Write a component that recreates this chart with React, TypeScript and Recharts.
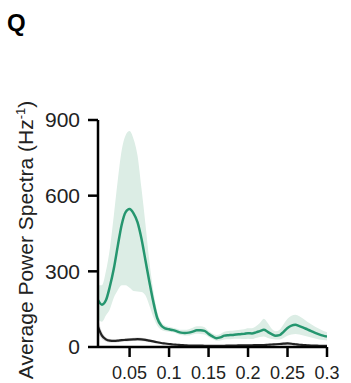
import React from "react";
import { ComposedChart, Area, Line, XAxis, YAxis, Label } from "recharts";

const freq = [0.01, 0.015, 0.02, 0.025, 0.03, 0.035, 0.04, 0.045, 0.05, 0.055, 0.06, 0.065, 0.07, 0.075, 0.08, 0.085, 0.09, 0.095, 0.1, 0.105, 0.11, 0.115, 0.12, 0.125, 0.13, 0.135, 0.14, 0.145, 0.15, 0.155, 0.16, 0.165, 0.17, 0.175, 0.18, 0.185, 0.19, 0.195, 0.2, 0.205, 0.21, 0.215, 0.22, 0.225, 0.23, 0.235, 0.24, 0.245, 0.25, 0.255, 0.26, 0.265, 0.27, 0.275, 0.28, 0.285, 0.29, 0.295, 0.3];

const greenMean = [186, 168, 185, 240, 310, 400, 485, 535, 547, 530, 495, 430, 345, 260, 180, 115, 85, 74, 70, 67, 62, 57, 56, 57, 61, 66, 66, 64, 52, 42, 35, 38, 45, 47, 48, 50, 51, 52, 55, 54, 58, 63, 68, 60, 51, 45, 47, 60, 75, 85, 88, 83, 77, 70, 63, 56, 50, 45, 41];
const greenUpper = [245, 245, 300, 390, 520, 660, 780, 840, 856, 825, 760, 630, 490, 340, 225, 140, 100, 85, 80, 76, 72, 68, 68, 70, 76, 82, 82, 78, 64, 54, 48, 52, 60, 63, 64, 66, 68, 70, 74, 74, 82, 95, 112, 95, 72, 62, 68, 90, 112, 124, 128, 122, 112, 100, 90, 80, 72, 64, 58];
const greenLower = [110, 100, 125, 150, 195, 225, 245, 245, 235, 222, 220, 218, 205, 165, 120, 85, 68, 62, 60, 58, 53, 48, 46, 46, 50, 53, 52, 50, 40, 32, 25, 26, 30, 31, 32, 33, 33, 32, 33, 32, 36, 40, 42, 36, 32, 30, 30, 36, 45, 50, 52, 50, 46, 42, 38, 34, 30, 28, 26];

const blackMean = [80, 45, 30, 25, 24, 25, 27, 28, 29, 30, 31, 30, 28, 25, 22, 19, 16, 14, 12, 10, 9, 8, 7, 6, 6, 6, 6, 5, 5, 5, 5, 5, 5, 6, 6, 6, 7, 7, 7, 7, 8, 8, 8, 9, 10, 11, 12, 13, 14, 13, 11, 9, 8, 7, 6, 6, 5, 5, 5];
const blackUpper = [110, 60, 38, 32, 30, 31, 33, 35, 36, 37, 38, 37, 35, 31, 27, 24, 20, 18, 15, 13, 12, 11, 10, 9, 9, 9, 9, 8, 8, 8, 8, 8, 8, 9, 9, 9, 10, 10, 10, 10, 11, 11, 12, 13, 14, 15, 17, 19, 20, 19, 16, 13, 12, 10, 9, 9, 8, 8, 8];
const blackLower = [55, 32, 22, 18, 18, 19, 21, 22, 23, 24, 24, 23, 22, 19, 17, 14, 12, 10, 9, 7, 6, 5, 4, 3, 3, 3, 3, 2, 2, 2, 2, 2, 2, 3, 3, 3, 4, 4, 4, 4, 5, 5, 5, 5, 6, 7, 8, 8, 9, 8, 7, 6, 5, 4, 3, 3, 2, 2, 2];

const xTicks = [0.05, 0.1, 0.15, 0.2, 0.25, 0.3];
const xTickLabels = ["0.05", "0.1", "0.15", "0.2", "0.25", "0.3"];
const yTicks = [0, 300, 600, 900];
const yTickLabels = ["0", "300", "600", "900"];

const data = freq.map((f, i) => ({
  f,
  green: greenMean[i],
  greenBand: [greenLower[i], greenUpper[i]],
  black: blackMean[i],
  blackBand: [blackLower[i], blackUpper[i]],
}));

const FONT = "'Liberation Sans', Arial, Helvetica, sans-serif";
const GREEN = "#25966f";

const YLabel = () => {
  const cx = 33;
  const cy = 240;
  return (
    <text
      x={cx}
      y={cy}
      transform={`rotate(-90, ${cx}, ${cy})`}
      textAnchor="middle"
      fontFamily={FONT}
      fontSize={21}
      fill="#222"
    >
      Average Power Spectra (Hz
      <tspan fontSize={13} dy={-8}>-1</tspan>
      <tspan dy={8}>)</tspan>
    </text>
  );
};

export default function App() {
  return (
    <div style={{ position: "absolute", left: 0, top: 0, width: 351, height: 383, background: "#fff" }}>
      <div
        style={{
          position: "absolute",
          left: 7,
          top: 9,
          fontFamily: FONT,
          fontWeight: "bold",
          fontSize: 24,
          lineHeight: "28px",
          color: "#000",
        }}
      >
        Q
      </div>
      <ComposedChart
        width={351}
        height={383}
        data={data}
        margin={{ top: 120, right: 24, left: 0, bottom: 0 }}
      >
        <XAxis
          type="number"
          dataKey="f"
          domain={[0.01, 0.3]}
          ticks={xTicks}
          tickFormatter={(v: number) => xTickLabels[xTicks.indexOf(v)] ?? String(v)}
          allowDataOverflow
          height={36}
          tickSize={10}
          tickMargin={9}
          stroke="#000"
          axisLine={{ stroke: "#000", strokeWidth: 2.5 }}
          tickLine={{ stroke: "#000", strokeWidth: 2.5 }}
          tick={{ fill: "#222", fontSize: 18, fontFamily: FONT }}
        />
        <YAxis
          type="number"
          domain={[0, 900]}
          ticks={yTicks}
          tickFormatter={(v: number) => yTickLabels[yTicks.indexOf(v)] ?? String(v)}
          width={98}
          tickSize={10}
          tickMargin={8}
          stroke="#000"
          axisLine={{ stroke: "#000", strokeWidth: 2.5 }}
          tickLine={{ stroke: "#000", strokeWidth: 2.5 }}
          tick={{ fill: "#222", fontSize: 21, fontFamily: FONT }}
        >
          <Label content={<YLabel />} />
        </YAxis>
        <Area
          dataKey="greenBand"
          type="monotone"
          stroke="none"
          fill="#dcede5"
          fillOpacity={1}
          isAnimationActive={false}
        />
        <Area
          dataKey="blackBand"
          type="monotone"
          stroke="none"
          fill="#9a9a9a"
          fillOpacity={0.35}
          isAnimationActive={false}
        />
        <Line
          dataKey="green"
          type="monotone"
          stroke={GREEN}
          strokeWidth={2.5}
          dot={false}
          isAnimationActive={false}
        />
        <Line
          dataKey="black"
          type="monotone"
          stroke="#222"
          strokeWidth={2.2}
          dot={false}
          isAnimationActive={false}
        />
      </ComposedChart>
    </div>
  );
}
